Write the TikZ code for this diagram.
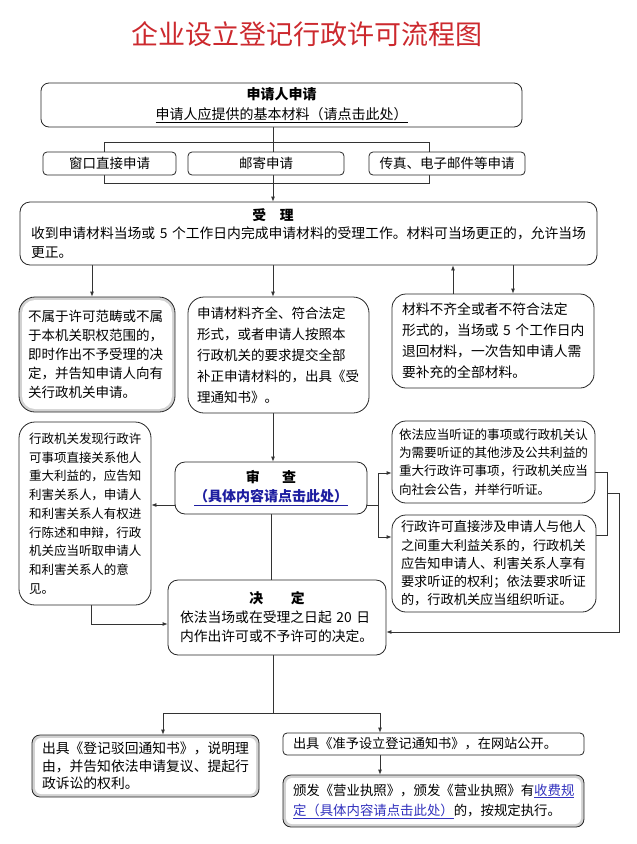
\documentclass[tikz,border=0pt]{standalone}
\usepackage{fontspec}
\setmainfont{Noto Sans CJK SC}
\usetikzlibrary{arrows.meta,backgrounds}
\definecolor{titlered}{RGB}{204,41,46}
\definecolor{linkblue}{RGB}{30,30,160}
\definecolor{linkblueb}{RGB}{50,50,190}
\newcommand{\fsz}[2]{\fontsize{#1}{#2}\selectfont}
\newcommand{\lnkb}[1]{\textcolor{linkblue}{\underline{#1}}}
\newcommand{\lnkc}[1]{\textcolor{linkblueb}{\underline{#1}}}
\begin{document}
\begin{tikzpicture}[x=1pt,y=-1pt,
  bx/.style={draw=black!85, line width=0.8pt, fill=white, rounded corners=#1, inner ysep=0pt},
  bx/.default=8pt,
  shadowbox/.style={path picture={
     \fill[gray!35] (path picture bounding box.south west) rectangle (path picture bounding box.north east);
     \fill[white, rounded corners=#1] ([xshift=3pt,yshift=3pt]path picture bounding box.south west) rectangle ([xshift=-3pt,yshift=-3pt]path picture bounding box.north east);}},
  ln/.style={draw=black!80, line width=0.8pt},
  arr/.style={ln, -{Latex[length=5pt,width=4pt]}},
  titlestyle/.style={text=titlered, font=\fsz{27}{30}, inner sep=0pt}
]
\useasboundingbox (0,0) rectangle (637,844);

% title
\node[titlestyle] (title) at (307,34) {企业设立登记行政许可流程图};

% top box
\node[bx=8pt, minimum width=481pt, minimum height=44pt, align=center, font=\fsz{14}{20}] (top) at (281.5,105)
  {\textbf{申请人申请}\\\underline{申请人应提供的基本材料（请点击此处）}};

% three ways
\node[bx=4pt, minimum width=133pt, minimum height=23pt, font=\fsz{13.5}{16}] (w1) at (109.5,163.5) {窗口直接申请};
\node[bx=4pt, minimum width=156pt, minimum height=23pt, font=\fsz{13.5}{16}] (w2) at (266,163.5) {邮寄申请};
\node[bx=4pt, minimum width=156pt, minimum height=23pt, font=\fsz{13.5}{16}] (w3) at (447,163.5) {传真、电子邮件等申请};

% acceptance
\node[bx=10pt, text width=555pt, inner xsep=11pt, minimum height=63pt, align=left, font=\fsz{13.8}{18.5}] (shouli) at (308.5,233.5)
  {\makebox[484pt][c]{\bfseries 受\quad 理}\\收到申请材料当场或~5~个工作日内完成申请材料的受理工作。材料可当场更正的，允许当场\\更正。};

% three results
\node[bx=16pt, shadowbox=13pt, text width=138pt, inner xsep=9pt, minimum height=115pt, align=left, font=\fsz{13.5}{19}] (A) at (97,354.5)
  {不属于许可范畴或不属\\于本机关职权范围的，\\即时作出不予受理的决\\定，并告知申请人向有\\关行政机关申请。};
\node[bx=16pt, text width=163pt, inner xsep=9pt, minimum height=116pt, align=left, font=\fsz{13.5}{21}] (B) at (278.5,355)
  {申请材料齐全、符合法定\\形式，或者申请人按照本\\行政机关的要求提交全部\\补正申请材料的，出具《受\\理通知书》。};
\node[bx=14pt, text width=182pt, inner xsep=10pt, minimum height=94pt, align=left, font=\fsz{13.8}{21}] (C) at (493,341)
  {材料不齐全或者不符合法定\\形式的，当场或~5~个工作日内\\退回材料，一次告知申请人需\\要补充的全部材料。};

% review
\node[bx=16pt, text width=112pt, inner xsep=10pt, minimum height=183pt, align=left, font=\fsz{12.5}{18.75}] (D) at (85,513.5)
  {行政机关发现行政许\\可事项直接关系他人\\重大利益的，应告知\\利害关系人，申请人\\和利害关系人有权进\\行陈述和申辩，行政\\机关应当听取申请人\\和利害关系人的意\\见。};
\node[bx=10pt, minimum width=192pt, minimum height=52pt, align=center, font=\fsz{14}{19}] (shencha) at (271,488)
  {\textbf{审\hspace{1.6em}查}\\\lnkb{\textbf{（具体内容请点击此处）}}};
\node[bx=14pt, text width=189pt, inner xsep=7pt, minimum height=82pt, align=left, font=\fsz{12.6}{18.3}] (E) at (493.5,462)
  {依法应当听证的事项或行政机关认\\为需要听证的其他涉及公共利益的\\重大行政许可事项，行政机关应当\\向社会公告，并举行听证。};
\node[bx=14pt, text width=186pt, inner xsep=9pt, minimum height=97pt, align=left, font=\fsz{13.2}{18.2}] (F) at (494,563.5)
  {行政许可直接涉及申请人与他人\\之间重大利益关系的，行政机关\\应告知申请人、利害关系人享有\\要求听证的权利；依法要求听证\\的，行政机关应当组织听证。};

% decision
\node[bx=10pt, text width=194pt, inner xsep=12pt, minimum height=75pt, align=left, font=\fsz{13.8}{19}] (jueding) at (277,617.5)
  {\makebox[194pt][c]{\bfseries 决\qquad 定}\\依法当场或在受理之日起~20~日\\内作出许可或不予许可的决定。};

% outcomes
\node[bx=8pt, shadowbox=6pt, text width=207pt, inner xsep=10pt, minimum height=62pt, align=left, font=\fsz{13.8}{17.5}] (G) at (145.5,766)
  {出具《登记驳回通知书》，说明理\\由，并告知依法申请复议、提起行\\政诉讼的权利。};
\node[bx=4pt, text width=281pt, inner xsep=10pt, minimum height=22pt, align=left, font=\fsz{13.2}{16}] (H) at (433.5,744)
  {出具《准予设立登记通知书》，在网站公开。};
\node[bx=8pt, shadowbox=6pt, text width=281pt, inner xsep=10pt, minimum height=52pt, align=left, font=\fsz{13.4}{20}] (I) at (433.5,801)
  {颁发《营业执照》，颁发《营业执照》有\lnkc{收费规}\\\lnkc{定（具体内容请点击此处）}的，按规定执行。};

% connectors
\begin{scope}[on background layer]
  \coordinate (spine) at (273,0);
  \coordinate (brTL) at (104,142);
  \coordinate (brBR) at (429,183);
  \draw[arr] (top.south -| spine) -- (shouli.north -| spine);
  \draw[ln] (brTL) rectangle (brBR);
  \draw[arr] (shouli.south -| 92,0) -- (A.north -| 92,0);
  \draw[arr] (shouli.south -| spine) -- (B.north -| spine);
  \draw[arr] (shouli.south -| 513,0) -- (C.north -| 513,0);
  \draw[arr] (C.north -| 453,0) -- (shouli.south -| 453,0);
  \draw[arr] (B.south -| spine) -- (shencha.north -| spine);
  \draw[arr] (shencha.west |- 0,505) -- (D.east |- 0,505);
  \coordinate (rb) at (378,505);
  \draw[ln] (shencha.east |- rb) -- (rb);
  \draw[arr] (rb) |- (E.west |- 0,473);
  \draw[arr] (rb) |- (F.west |- 0,537);
  \draw[ln] (E.east |- 0,472) -| (607,535) -- (F.east |- 0,535);
  \draw[arr] (607,493) -| (619,632) -- (jueding.east |- 0,632);
  \draw[arr] (D.south -| 91,0) |- (jueding.west |- 0,624);
  \draw[ln] (shencha.south -| 271,0) -- (jueding.north -| 271,0);
  \coordinate (br2) at (273,713);
  \draw[ln] (jueding.south -| spine) -- (br2);
  \draw[arr] (br2) -| (G.north -| 163,0);
  \draw[arr] (br2) -| (H.north -| 380,0);
  \draw[arr] (H.south -| 380,0) -- (I.north -| 380,0);
\end{scope}
\end{tikzpicture}
\end{document}
